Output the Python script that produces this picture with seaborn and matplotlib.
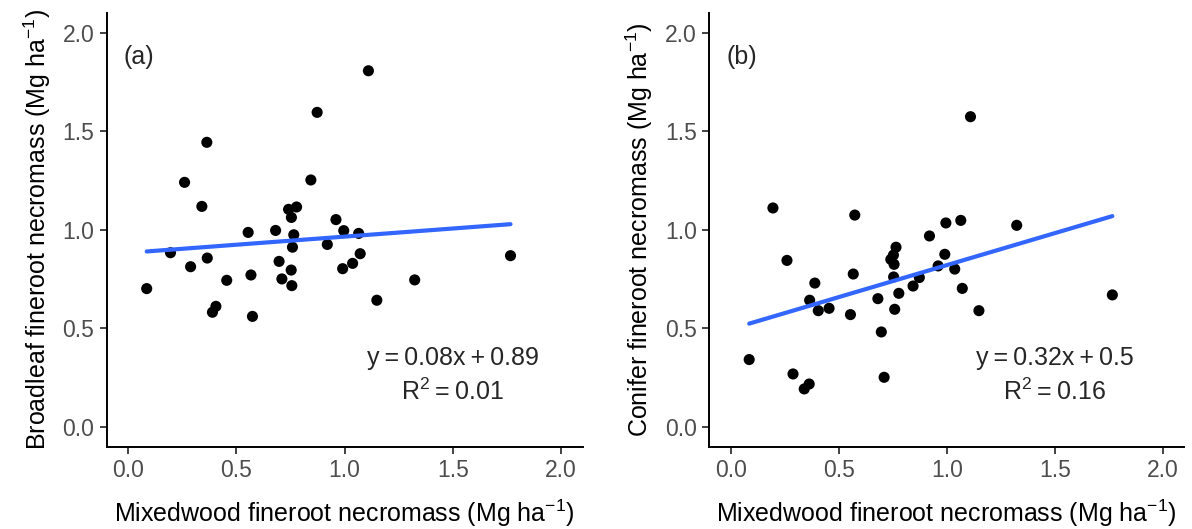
import matplotlib
matplotlib.use("Agg")
import matplotlib.pyplot as plt
import seaborn as sns
import pandas as pd

# Mixedwood fineroot necromass (shared x)
mixedwood = [0.085, 0.195, 0.260, 0.288, 0.340, 0.363, 0.365, 0.389, 0.405, 0.455,
             0.554, 0.567, 0.574, 0.681, 0.697, 0.710, 0.741, 0.753, 0.754, 0.756,
             0.759, 0.765, 0.778, 0.844, 0.873, 0.920, 0.960, 0.991, 0.996, 1.037,
             1.065, 1.072, 1.110, 1.149, 1.324, 1.767]

broadleaf = [0.702, 0.884, 1.241, 0.813, 1.119, 1.444, 0.857, 0.582, 0.612, 0.744,
             0.987, 0.771, 0.561, 0.997, 0.840, 0.751, 1.104, 0.796, 1.063, 0.717,
             0.912, 0.975, 1.116, 1.253, 1.596, 0.926, 1.052, 0.803, 0.996, 0.830,
             0.982, 0.879, 1.807, 0.643, 0.746, 0.869]

conifer = [0.342, 1.111, 0.845, 0.269, 0.193, 0.218, 0.643, 0.730, 0.590, 0.602,
           0.570, 0.776, 1.075, 0.651, 0.482, 0.252, 0.850, 0.872, 0.761, 0.825,
           0.597, 0.912, 0.678, 0.715, 0.758, 0.969, 0.817, 0.876, 1.035, 0.801,
           1.048, 0.703, 1.574, 0.590, 1.023, 0.670]

tick_values = [0.0, 0.5, 1.0, 1.5, 2.0]
tick_labels = ["0.0", "0.5", "1.0", "1.5", "2.0"]
panel_labels = ["(a)", "(b)"]
y_titles = [r"Broadleaf fineroot necromass (Mg ha$^{-1}$)",
            r"Conifer fineroot necromass (Mg ha$^{-1}$)"]
x_title = r"Mixedwood fineroot necromass (Mg ha$^{-1}$)"
equations = ["y\u2009=\u20090.08x\u2009+\u20090.89", "y\u2009=\u20090.32x\u2009+\u20090.5"]
r2_texts = [r"R$^2$" + "\u2009=\u20090.01", r"R$^2$" + "\u2009=\u20090.16"]

df = pd.DataFrame({"mixed": mixedwood, "broad": broadleaf, "conifer": conifer})

sns.set_theme(style="ticks")
plt.rcParams["font.family"] = ["Liberation Sans", "DejaVu Sans"]
plt.rcParams["mathtext.fontset"] = "custom"
plt.rcParams["mathtext.rm"] = "Liberation Sans"
plt.rcParams["mathtext.it"] = "Liberation Sans:italic"
plt.rcParams["mathtext.bf"] = "Liberation Sans:bold"

fig = plt.figure(figsize=(11.92, 5.29), dpi=100)
ax_a = fig.add_axes([0.0895, 0.1556, 0.3992, 0.8198])
ax_b = fig.add_axes([0.5950, 0.1556, 0.3985, 0.8198])

for ax, ycol, ytitle, eq, r2, lab in zip([ax_a, ax_b], ["broad", "conifer"], y_titles,
                                         equations, r2_texts, panel_labels):
    sns.regplot(data=df, x="mixed", y=ycol, ax=ax, ci=None,
                scatter_kws=dict(s=64, color="black", edgecolor="none", alpha=1),
                line_kws=dict(color="#3366FF", linewidth=3))
    ax.set_xlim(-0.1, 2.1)
    ax.set_ylim(-0.1, 2.1)
    ax.set_xticks(tick_values)
    ax.set_xticklabels(tick_labels)
    ax.set_yticks(tick_values)
    ax.set_yticklabels(tick_labels)
    ax.tick_params(axis="both", labelsize=16.5, labelcolor="#4D4D4D", color="#333333",
                   length=5, width=1.3, pad=4)
    for side in ["top", "right"]:
        ax.spines[side].set_visible(False)
    for side in ["left", "bottom"]:
        ax.spines[side].set_linewidth(1.4)
        ax.spines[side].set_color("black")
    ax.set_xlabel(x_title, fontsize=18, color="black", labelpad=11)
    ax.set_ylabel(ytitle, fontsize=18, color="black", labelpad=7)
    ax.text(0.05, 1.875, lab, fontsize=18, ha="center", va="center")
    ax.text(1.5, 0.35, eq, fontsize=18, ha="center", va="center")
    ax.text(1.5, 0.18, r2, fontsize=18, ha="center", va="center")

fig.savefig("out.png", dpi=100)
